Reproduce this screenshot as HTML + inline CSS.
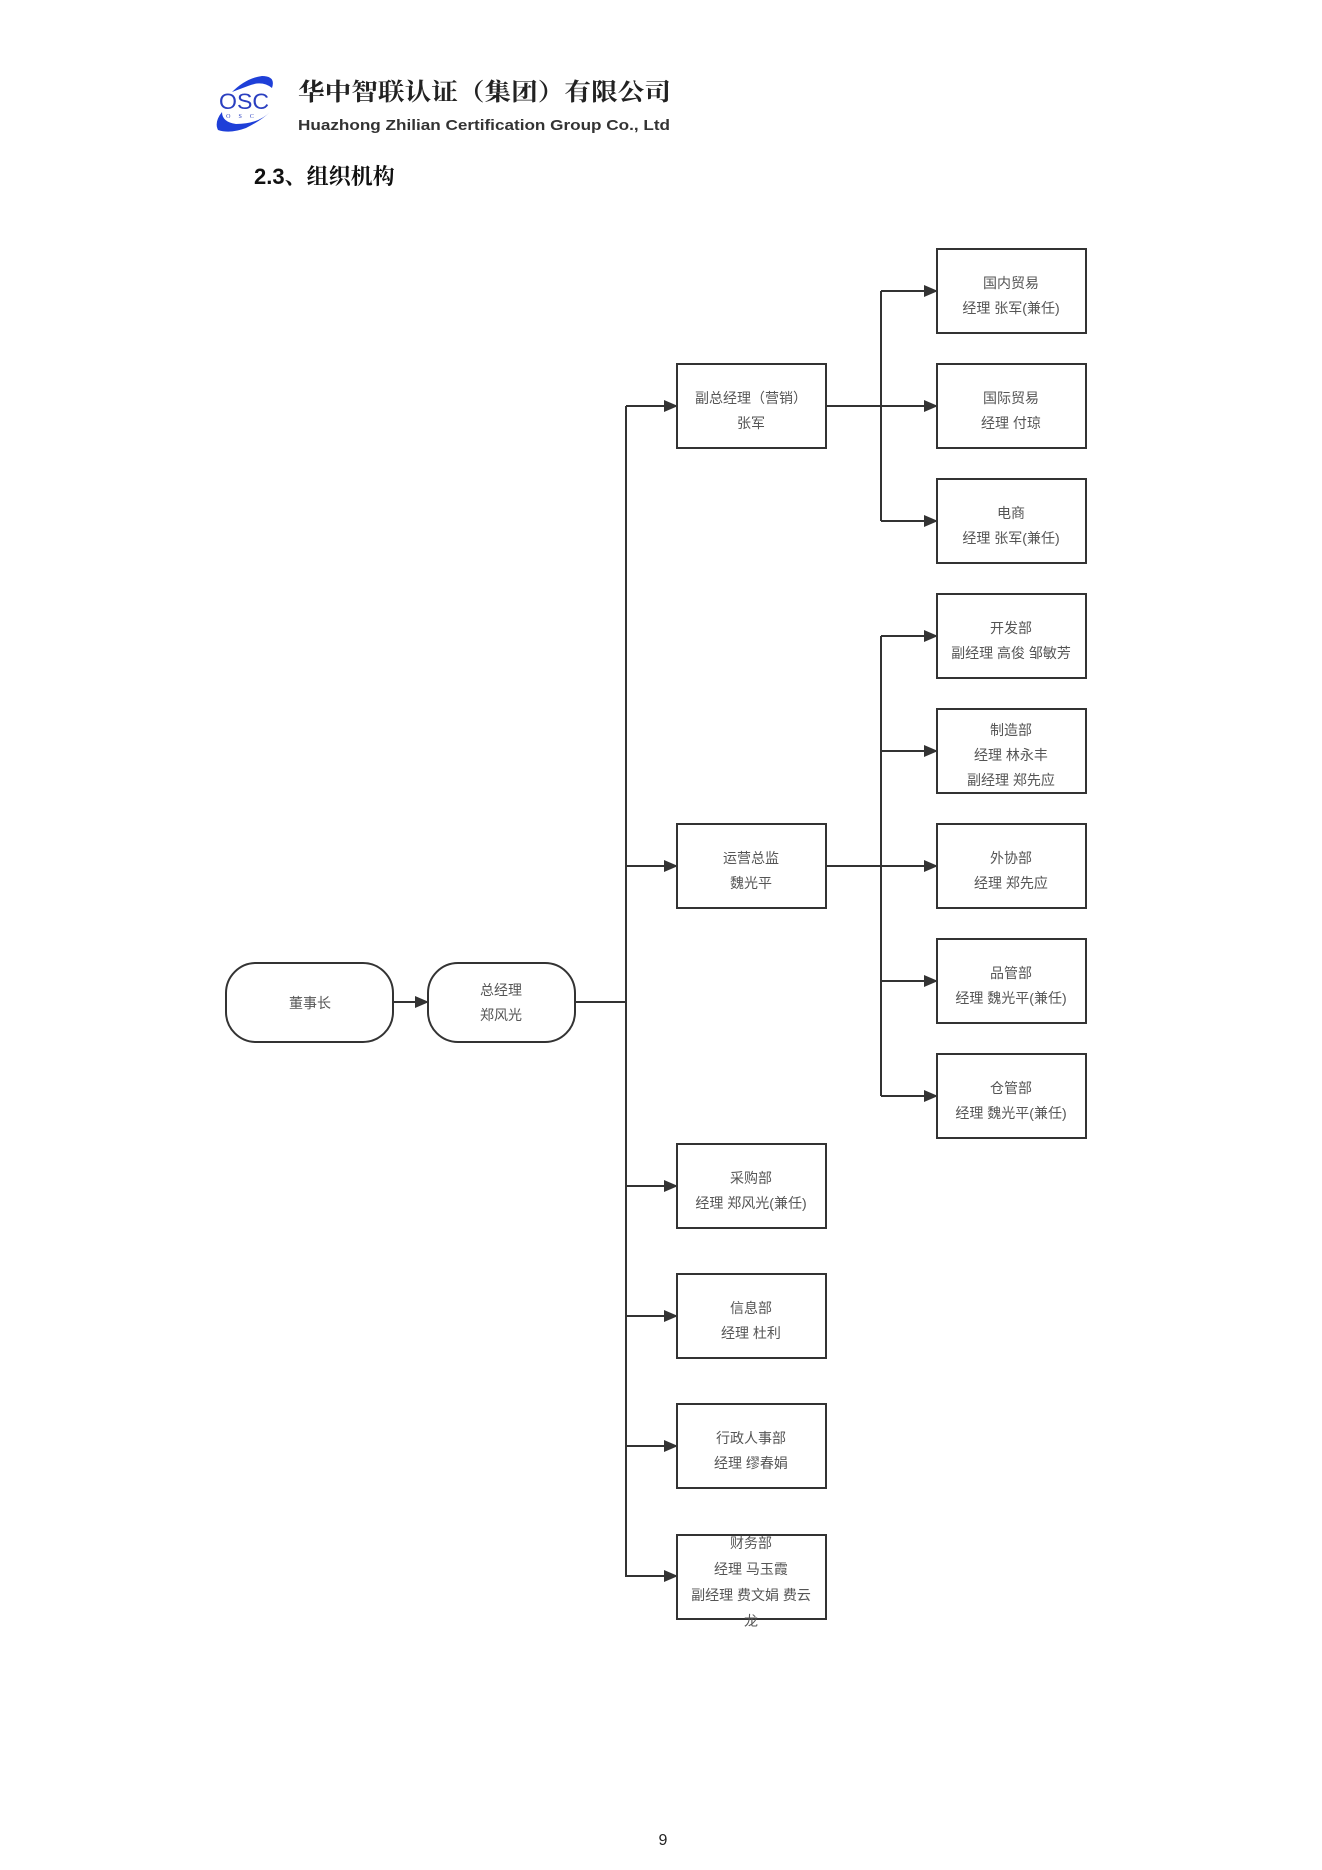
<!DOCTYPE html>
<html><head><meta charset="utf-8"><style>
html,body{margin:0;padding:0;background:#fff;}
svg{display:block;}
</style></head><body>
<svg width="1322" height="1870" viewBox="0 0 1322 1870" xmlns="http://www.w3.org/2000/svg">
<defs>
<marker id="a" markerWidth="14" markerHeight="12" refX="13" refY="6" orient="auto" markerUnits="userSpaceOnUse">
<path d="M0,0 L14,6 L0,12 z" fill="#333"/>
</marker>
</defs>
<g>
<path d="M232,92 Q246,78 262,76 Q276,76 272,88 Q262,80 248,86 Z" fill="#1e3fd8"/>
<path d="M218,130 Q230,134 246,128 Q262,120 270,112 Q258,124 236,124 Q222,122 222,112 Q214,122 218,130 Z" fill="#1e3fd8"/>
<text x="244" y="109" font-family="Liberation Sans, sans-serif" font-size="22" fill="#2a3fc0" text-anchor="middle" textLength="50" lengthAdjust="spacingAndGlyphs">OSC</text>
<text x="244" y="118" font-family="Liberation Serif, serif" font-size="6" fill="#2a3fc0" text-anchor="middle" letter-spacing="8">OSC</text>
</g>
<text x="298" y="100" font-family="Liberation Serif, 'Noto Serif CJK SC', serif" font-weight="bold" font-size="24" fill="#222" textLength="373" lengthAdjust="spacingAndGlyphs">华中智联认证（集团）有限公司</text>
<text x="298" y="130" font-family="Liberation Sans, sans-serif" font-weight="bold" font-size="15" fill="#333" textLength="372" lengthAdjust="spacingAndGlyphs">Huazhong Zhilian Certification Group Co., Ltd</text>
<text x="254" y="184" font-family="Liberation Sans, 'Noto Serif CJK SC', serif" font-weight="bold" font-size="22" fill="#111">2.3、组织机构</text>

<g stroke="#333" stroke-width="2" fill="none">
<rect x="226" y="963" width="167" height="79" rx="30" ry="30"/>
<rect x="428" y="963" width="147" height="79" rx="30" ry="30"/>
<line x1="393" y1="1002" x2="428" y2="1002" marker-end="url(#a)"/>
<line x1="575" y1="1002" x2="626" y2="1002"/>
<line x1="626" y1="406" x2="626" y2="1577"/>
<line x1="626" y1="406" x2="677" y2="406" marker-end="url(#a)"/>
<line x1="626" y1="866" x2="677" y2="866" marker-end="url(#a)"/>
<line x1="626" y1="1186" x2="677" y2="1186" marker-end="url(#a)"/>
<line x1="626" y1="1316" x2="677" y2="1316" marker-end="url(#a)"/>
<line x1="626" y1="1446" x2="677" y2="1446" marker-end="url(#a)"/>
<line x1="626" y1="1576" x2="677" y2="1576" marker-end="url(#a)"/>
<rect x="677" y="364" width="149" height="84"/>
<rect x="677" y="824" width="149" height="84"/>
<rect x="677" y="1144" width="149" height="84"/>
<rect x="677" y="1274" width="149" height="84"/>
<rect x="677" y="1404" width="149" height="84"/>
<rect x="677" y="1535" width="149" height="84"/>
<line x1="826" y1="406" x2="881" y2="406"/>
<line x1="881" y1="291" x2="881" y2="521"/>
<line x1="881" y1="291" x2="937" y2="291" marker-end="url(#a)"/>
<line x1="881" y1="406" x2="937" y2="406" marker-end="url(#a)"/>
<line x1="881" y1="521" x2="937" y2="521" marker-end="url(#a)"/>
<line x1="826" y1="866" x2="881" y2="866"/>
<line x1="881" y1="636" x2="881" y2="1096"/>
<line x1="881" y1="636" x2="937" y2="636" marker-end="url(#a)"/>
<line x1="881" y1="751" x2="937" y2="751" marker-end="url(#a)"/>
<line x1="881" y1="866" x2="937" y2="866" marker-end="url(#a)"/>
<line x1="881" y1="981" x2="937" y2="981" marker-end="url(#a)"/>
<line x1="881" y1="1096" x2="937" y2="1096" marker-end="url(#a)"/>
<rect x="937" y="249" width="149" height="84"/>
<rect x="937" y="364" width="149" height="84"/>
<rect x="937" y="479" width="149" height="84"/>
<rect x="937" y="594" width="149" height="84"/>
<rect x="937" y="709" width="149" height="84"/>
<rect x="937" y="824" width="149" height="84"/>
<rect x="937" y="939" width="149" height="84"/>
<rect x="937" y="1054" width="149" height="84"/>
</g>

<g font-family="Liberation Sans, 'Noto Sans CJK SC', sans-serif" font-size="14" fill="#555" text-anchor="middle">
<text x="310" y="1008">董事长</text>
<text x="501" y="995">总经理</text><text x="501" y="1020">郑风光</text>

<text x="751" y="403">副总经理（营销）</text><text x="751" y="428">张军</text>
<text x="751" y="863">运营总监</text><text x="751" y="888">魏光平</text>
<text x="751" y="1183">采购部</text><text x="751" y="1208">经理 郑风光(兼任)</text>
<text x="751" y="1313">信息部</text><text x="751" y="1338">经理 杜利</text>
<text x="751" y="1443">行政人事部</text><text x="751" y="1468">经理 缪春娟</text>
<text x="751" y="1548">财务部</text><text x="751" y="1574">经理 马玉霞</text><text x="751" y="1600">副经理 费文娟 费云</text><text x="751" y="1626">龙</text>

<text x="1011" y="288">国内贸易</text><text x="1011" y="313">经理 张军(兼任)</text>
<text x="1011" y="403">国际贸易</text><text x="1011" y="428">经理 付琼</text>
<text x="1011" y="518">电商</text><text x="1011" y="543">经理 张军(兼任)</text>
<text x="1011" y="633">开发部</text><text x="1011" y="658">副经理  高俊 邹敏芳</text>
<text x="1011" y="735">制造部</text><text x="1011" y="760">经理 林永丰</text><text x="1011" y="785">副经理 郑先应</text>
<text x="1011" y="863">外协部</text><text x="1011" y="888">经理 郑先应</text>
<text x="1011" y="978">品管部</text><text x="1011" y="1003">经理 魏光平(兼任)</text>
<text x="1011" y="1093">仓管部</text><text x="1011" y="1118">经理 魏光平(兼任)</text>
</g>
<text x="663" y="1845" font-family="Liberation Sans, sans-serif" font-size="16" fill="#222" text-anchor="middle">9</text>
</svg>
</body></html>
